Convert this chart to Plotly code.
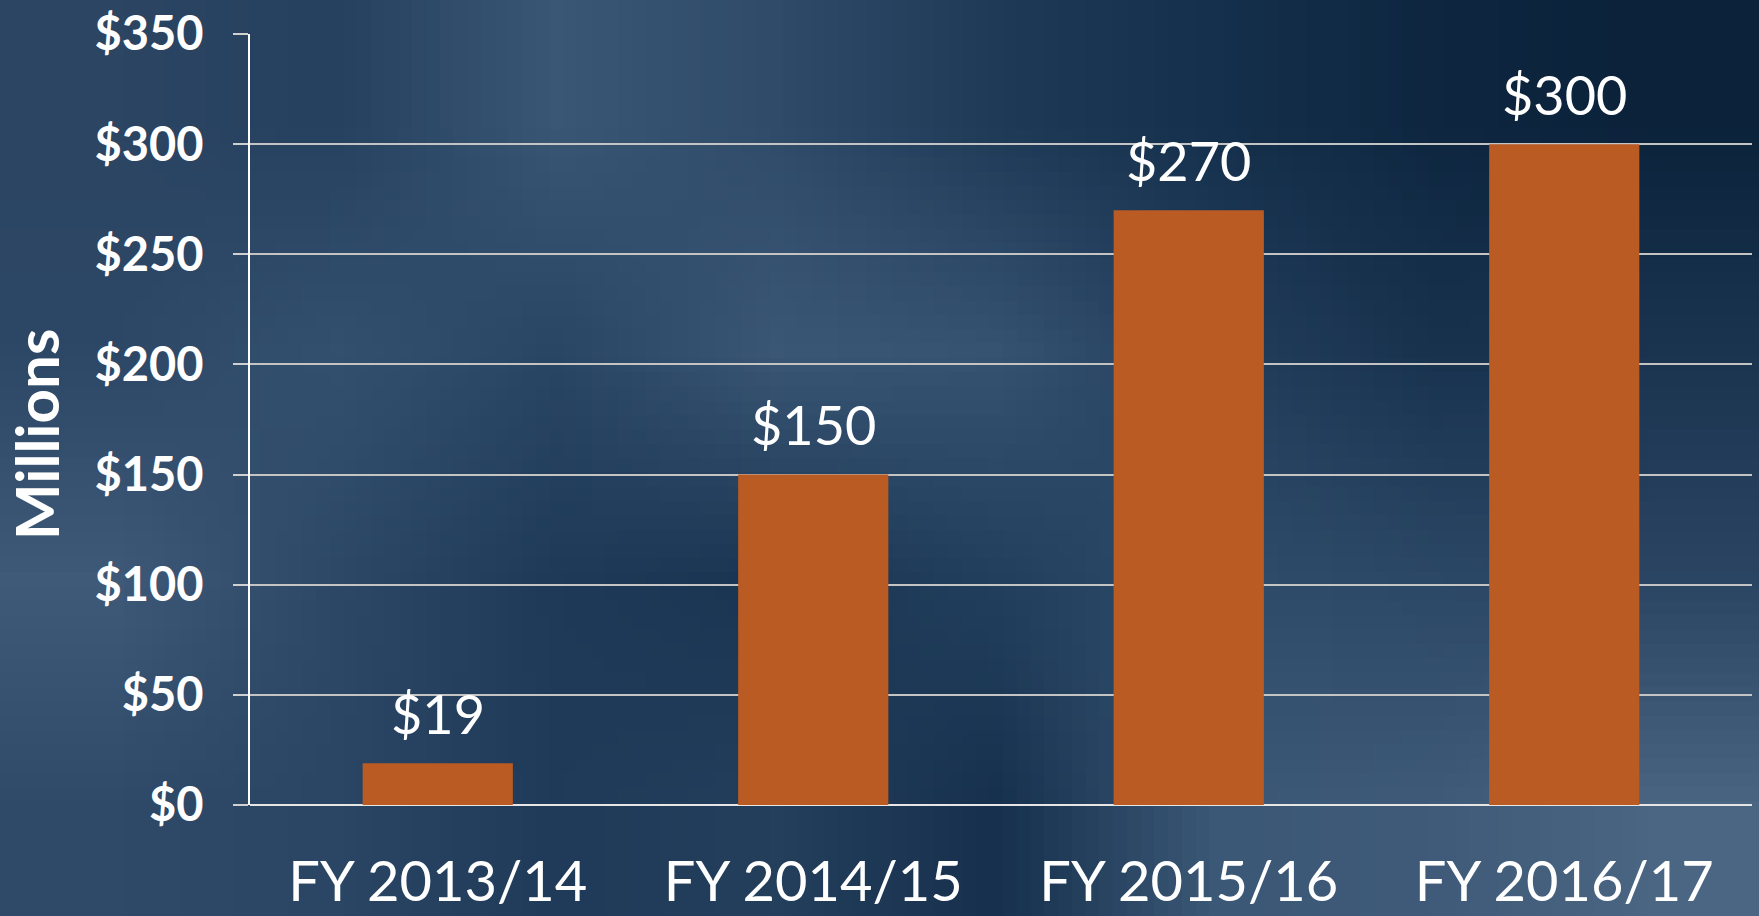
import base64, struct, zlib
import plotly.graph_objects as go

# ---- data ----
categories = ["FY 2013/14", "FY 2014/15", "FY 2015/16", "FY 2016/17"]
values = [19, 150, 270, 300]
value_labels = ["$19", "$150", "$270", "$300"]
y_tickvals = [0, 50, 100, 150, 200, 250, 300, 350]
y_ticktext = ["$0", "$50", "$100", "$150", "$200", "$250", "$300", "$350"]
y_title = "Millions"

# ---- background texture (style only) ----
bg_grid = [
    ["#2b4563", "#26415f", "#3a5776", "#2f4b69", "#1f3a57", "#15304c", "#0e2640", "#0c223b"],
    ["#2d4866", "#33516f", "#2a4665", "#3a5775", "#365372", "#233e5c", "#18324e", "#1a3450"],
    ["#3f5a78", "#2c4866", "#1e3a58", "#1a3552", "#22405e", "#2f4d6b", "#2b4866", "#2a4563"],
    ["#2f4a68", "#2a4664", "#1f3b59", "#243f5c", "#16304d", "#3b5876", "#3f5b79", "#4a6682"],
]


def hex_rgb(h):
    h = h.lstrip("#")
    return [int(h[i:i + 2], 16) for i in (0, 2, 4)]


def make_png(grid):
    h = len(grid)
    w = len(grid[0])
    raw = b"".join(b"\x00" + bytes(sum((hex_rgb(c) for c in row), [])) for row in grid)

    def chunk(tag, data):
        c = struct.pack(">I", len(data)) + tag + data
        return c + struct.pack(">I", zlib.crc32(tag + data) & 0xFFFFFFFF)

    png = b"\x89PNG\r\n\x1a\n"
    png += chunk(b"IHDR", struct.pack(">IIBBBBB", w, h, 8, 2, 0, 0, 0))
    png += chunk(b"IDAT", zlib.compress(raw, 9))
    png += chunk(b"IEND", b"")
    return "data:image/png;base64," + base64.b64encode(png).decode()


W, H = 1759, 916
ML, MR, MT, MB = 250, 7, 34, 111
PW, PH = W - ML - MR, H - MT - MB

FONT = "Lato"
BAR_COLOR = "#BA5B24"

fig = go.Figure()
fig.add_trace(go.Bar(
    x=categories,
    y=values,
    marker=dict(color=BAR_COLOR, line=dict(width=0)),
    width=0.4,
    hoverinfo="skip",
))

for cat, val, lab in zip(categories, values, value_labels):
    fig.add_annotation(
        x=cat, y=val, text=lab, showarrow=False,
        xref="x", yref="y", yanchor="middle", yshift=50,
        font=dict(family=FONT, size=54, color="white"),
    )

# y-axis title placed as rotated annotation
fig.add_annotation(
    text=y_title, showarrow=False, textangle=-90,
    xref="paper", yref="paper",
    x=(36 - ML) / PW, y=(H - MB - 435) / PH,
    xanchor="center", yanchor="middle",
    font=dict(family=FONT, size=60, color="white", weight="bold"),
)

fig.update_layout(
    width=W, height=H,
    margin=dict(l=ML, r=MR, t=MT, b=MB, autoexpand=False),
    paper_bgcolor="#243f5c",
    plot_bgcolor="rgba(0,0,0,0)",
    showlegend=False,
    bargap=0.6,
    images=[dict(
        source=make_png(bg_grid),
        xref="paper", yref="paper",
        x=-ML / PW, y=1 + MT / PH,
        sizex=W / PW, sizey=H / PH,
        xanchor="left", yanchor="top",
        sizing="stretch", layer="below",
    )],
    xaxis=dict(
        showgrid=False, showline=False, zeroline=False,
        ticks="", automargin=False,
        tickfont=dict(family=FONT, size=56, color="white"),
        ticklabelstandoff=39,
    ),
    yaxis=dict(
        range=[0, 350],
        tickvals=y_tickvals, ticktext=y_ticktext,
        showgrid=True, gridcolor="#c4c4c4", gridwidth=2,
        zeroline=True, zerolinecolor="#e6e6e6", zerolinewidth=2,
        showline=True, linecolor="white", linewidth=2,
        ticks="outside", ticklen=15, tickcolor="#d0d0d0", tickwidth=2,
        automargin=False,
        tickfont=dict(family=FONT, size=47, color="white", weight="bold"),
        ticklabelstandoff=20,
    ),
)

fig.write_html(
    "out.html",
    config={"displayModeBar": False},
    post_script="document.body.style.margin='0';document.body.style.padding='0';"
                "document.documentElement.style.overflow='hidden';",
)
